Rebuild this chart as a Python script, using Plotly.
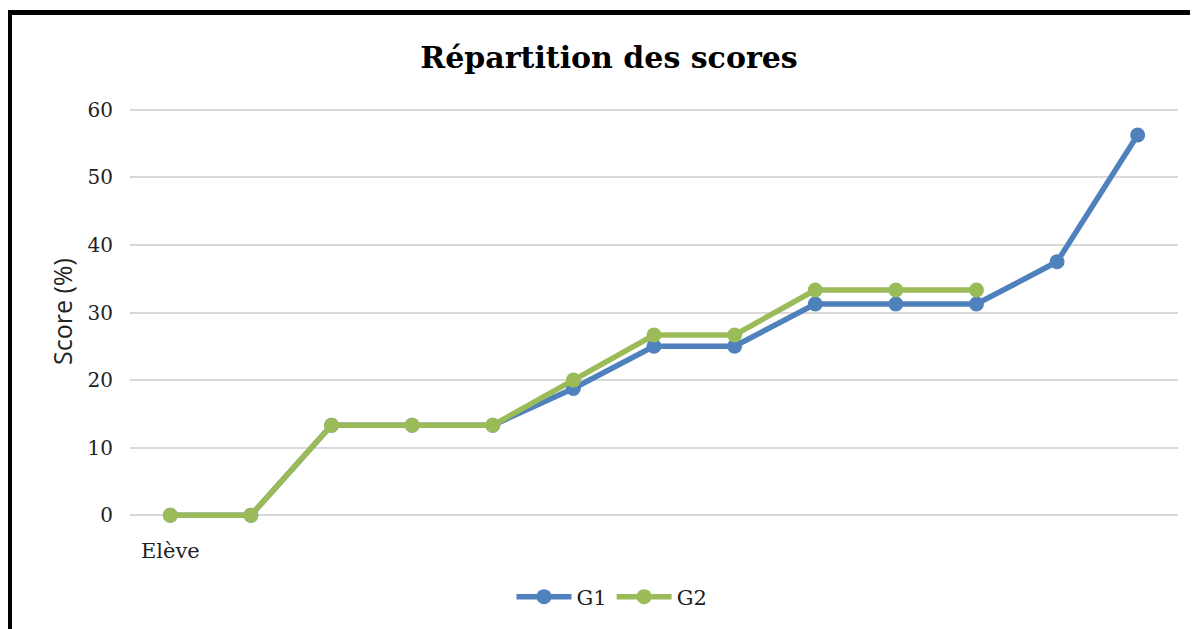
import plotly.graph_objects as go

x_pos = list(range(1, 14))
g1 = [0, 0, 13.33, 13.33, 13.33, 18.75, 25, 25, 31.25, 31.25, 31.25, 37.5, 56.25]
g2 = [0, 0, 13.33, 13.33, 13.33, 20, 26.67, 26.67, 33.33, 33.33, 33.33]
x_tick_vals = [1]
x_tick_text = ["Elève"]
y_ticks = [0, 10, 20, 30, 40, 50, 60]

OFF = 8  # page body margin
W, H = 1198, 629
PAD = 0.4  # small range pad so the 0 and 60 gridlines are drawn
unit = (515 - 110) / 60.0
L, T = 130 - OFF, int(round(110 - PAD * unit)) - OFF
R = W - (1178 - OFF)
B = H - (int(round(515 + PAD * unit)) - OFF)
pw, ph = W - L - R, H - T - B

def px_x(X):
    return (X - OFF - L) / pw

def px_y(Y):
    return (H - B - (Y - OFF)) / ph

fig = go.Figure()
fig.add_trace(go.Scatter(x=x_pos[:len(g1)], y=g1, name="G1", mode="lines+markers",
                         line=dict(color="#4f81bd", width=5.5),
                         marker=dict(size=15, color="#4f81bd"), cliponaxis=False))
fig.add_trace(go.Scatter(x=x_pos[:len(g2)], y=g2, name="G2", mode="lines+markers",
                         line=dict(color="#9bbb59", width=5.5),
                         marker=dict(size=15, color="#9bbb59"), cliponaxis=False))

fig.update_layout(
    width=W, height=H,
    margin=dict(l=L, r=R, t=T, b=B),
    paper_bgcolor="white", plot_bgcolor="white",
    title=dict(text="<b>Répartition des scores</b>", x=px_x(609), xref="paper",
               xanchor="center", y=1 - (57 - OFF) / H, yanchor="middle",
               font=dict(family="DejaVu Serif", size=30, color="#000000")),
    xaxis=dict(range=[0.5, 13.5], tickmode="array", tickvals=x_tick_vals, ticktext=x_tick_text,
               showgrid=False, zeroline=False, showline=False,
               tickfont=dict(family="DejaVu Serif", size=21, color="#222222"),
               ticklabelstandoff=18),
    yaxis=dict(range=[-PAD, 60 + PAD], tickmode="array", tickvals=y_ticks,
               showgrid=True, gridcolor="#d9d9d9", gridwidth=2,
               zeroline=False, showline=False,
               tickfont=dict(family="DejaVu Serif", size=20, color="#222222"),
               ticklabelstandoff=16),
    showlegend=True,
    legend=dict(orientation="h", x=px_x(612), xanchor="center", y=px_y(597), yanchor="middle",
                font=dict(family="DejaVu Serif", size=21, color="#222222"),
                itemwidth=55, bgcolor="rgba(0,0,0,0)"),
    annotations=[dict(text="Score (%)", textangle=-90, x=px_x(62), y=px_y(312),
                      xref="paper", yref="paper", showarrow=False,
                      xanchor="center", yanchor="middle",
                      font=dict(family="Open Sans", size=25, color="#222222"))],
    shapes=[
        dict(type="line", xref="paper", yref="paper", x0=px_x(9.5), x1=px_x(1240),
             y0=px_y(12.5), y1=px_y(12.5), line=dict(color="black", width=5)),
        dict(type="line", xref="paper", yref="paper", x0=px_x(9.5), x1=px_x(9.5),
             y0=px_y(10), y1=px_y(680), line=dict(color="black", width=5)),
    ],
)

fig.write_html("out.html")
